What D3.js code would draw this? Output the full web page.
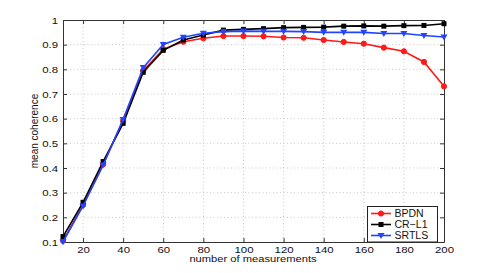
<!DOCTYPE html>
<html><head><meta charset="utf-8">
<script src="https://cdn.jsdelivr.net/npm/d3@7"></script>
<style>html,body{margin:0;padding:0;background:#fff;}svg{display:block;font-family:"Liberation Sans",Arial,sans-serif;}</style>
</head><body>
<svg id="c" width="491" height="273"></svg>
<script>
const measurements = [10,20,30,40,50,60,70,80,90,100,110,120,130,140,150,160,170,180,190,200];
const bpdn  = [0.105,0.250,0.415,0.593,0.795,0.882,0.912,0.926,0.935,0.935,0.934,0.929,0.928,0.919,0.911,0.904,0.888,0.873,0.830,0.731];
const crl1  = [0.122,0.261,0.426,0.581,0.788,0.877,0.919,0.939,0.959,0.962,0.965,0.969,0.970,0.971,0.975,0.976,0.975,0.977,0.978,0.985];
const srtls = [0.101,0.246,0.412,0.597,0.807,0.901,0.930,0.946,0.953,0.955,0.954,0.954,0.953,0.950,0.950,0.950,0.945,0.945,0.937,0.931];
const seriesNames = ["BPDN","CR\u2212L1","SRTLS"];
const xTicks = [20,40,60,80,100,120,140,160,180,200];
const yTicks = [0.1,0.2,0.3,0.4,0.5,0.6,0.7,0.8,0.9,1];

const series = [
  {name: seriesNames[0], values: bpdn,  color: "#ff1a1a", marker: "circle"},
  {name: seriesNames[1], values: crl1,  color: "#000000", marker: "square"},
  {name: seriesNames[2], values: srtls, color: "#2244ff", marker: "tri"}
];

const L = 63, R = 444, T = 20, B = 242;
const svg = d3.select("#c");
const x = d3.scaleLinear().domain([10,200]).range([L,R]);
const y = d3.scaleLinear().domain([0.1,1]).range([B,T]);

function stretch(sel, k){
  sel.each(function(){
    const w = this.getComputedTextLength();
    if (w > 0) d3.select(this).attr("textLength", w*k).attr("lengthAdjust","spacingAndGlyphs");
  });
}

// grid
const g = svg.append("g");
g.selectAll(".gx").data(xTicks.filter(d=>d<200)).enter().append("line")
  .attr("x1",d=>x(d)).attr("x2",d=>x(d)).attr("y1",T).attr("y2",B)
  .attr("stroke","#c8c8c8").attr("stroke-width",1).attr("stroke-dasharray","1,2.5");
g.selectAll(".gy").data(yTicks.filter(d=>d>0.1 && d<1)).enter().append("line")
  .attr("y1",d=>y(d)).attr("y2",d=>y(d)).attr("x1",L).attr("x2",R)
  .attr("stroke","#c8c8c8").attr("stroke-width",1).attr("stroke-dasharray","1,2.5");

// axes (inward ticks, box)
const ax = svg.append("g").attr("transform",`translate(0,${B})`)
  .call(d3.axisBottom(x).tickValues(xTicks).tickSizeInner(-4).tickSizeOuter(0).tickPadding(4));
const axTop = svg.append("g").attr("transform",`translate(0,${T})`)
  .call(d3.axisTop(x).tickValues(xTicks).tickSizeInner(-4).tickSizeOuter(0).tickFormat(""));
const ay = svg.append("g").attr("transform",`translate(${L},0)`)
  .call(d3.axisLeft(y).tickValues(yTicks).tickSizeInner(-4).tickSizeOuter(0).tickPadding(5).tickFormat(d=>d===1?"1":d3.format(".1f")(d)));
const ayR = svg.append("g").attr("transform",`translate(${R},0)`)
  .call(d3.axisRight(y).tickValues(yTicks).tickSizeInner(-4).tickSizeOuter(0).tickFormat(""));
[ax,axTop,ay,ayR].forEach(a=>{
  a.select(".domain").attr("stroke","#333").attr("stroke-width",1);
  a.selectAll(".tick line").attr("stroke","#333");
  a.selectAll("text").attr("font-size","9.5px").attr("fill","#111").attr("font-family","'Liberation Sans',Arial,sans-serif");
});
stretch(ax.selectAll("text"), 1.2);
stretch(ay.selectAll("text"), 1.2);

// labels
const xl = svg.append("text").attr("x",253).attr("y",261.5).attr("text-anchor","middle")
  .attr("font-size","9px").attr("fill","#111").text("number of measurements");
stretch(xl, 1.24);
svg.append("text").attr("transform",`translate(38,${(T+B)/2}) rotate(-90)`).attr("text-anchor","middle")
  .attr("font-size","10px").attr("fill","#111").text("mean coherence");

function drawMarker(sel, type, color){
  if(type==="circle"){
    sel.append("circle").attr("r",2.6).attr("fill",color).attr("stroke",color).attr("stroke-width",1);
  } else if(type==="square"){
    sel.append("rect").attr("x",-2.5).attr("y",-2.5).attr("width",5).attr("height",5).attr("fill",color);
  } else {
    sel.append("path").attr("d","M-3.5,-2.5L3.5,-2.5L0,3.5Z").attr("fill",color);
  }
}

const line = d3.line().x((d,i)=>x(measurements[i])).y(d=>y(d));
series.forEach(s=>{
  svg.append("path").datum(s.values).attr("d",line).attr("fill","none")
    .attr("stroke",s.color).attr("stroke-width",1.6);
  const m = svg.append("g").selectAll("g").data(s.values).enter().append("g")
    .attr("transform",(d,i)=>`translate(${x(measurements[i])},${y(d)})`);
  drawMarker(m, s.marker, s.color);
});

// legend
const lg = svg.append("g");
lg.append("rect").attr("x",367.5).attr("y",206.5).attr("width",70).attr("height",35.5)
  .attr("fill","#fff").attr("stroke","#222").attr("stroke-width",1);
series.forEach((s,i)=>{
  const yy = 213.5 + i*11;
  lg.append("line").attr("x1",371).attr("x2",391).attr("y1",yy).attr("y2",yy)
    .attr("stroke",s.color).attr("stroke-width",1.6);
  const mg = lg.append("g").attr("transform",`translate(381,${yy})`);
  drawMarker(mg, s.marker, s.color);
  const t = lg.append("text").attr("x",394.5).attr("y",yy+3.6).attr("font-size","10px").attr("fill","#111").text(s.name);
  stretch(t, 1.05);
});
</script>
</body></html>
